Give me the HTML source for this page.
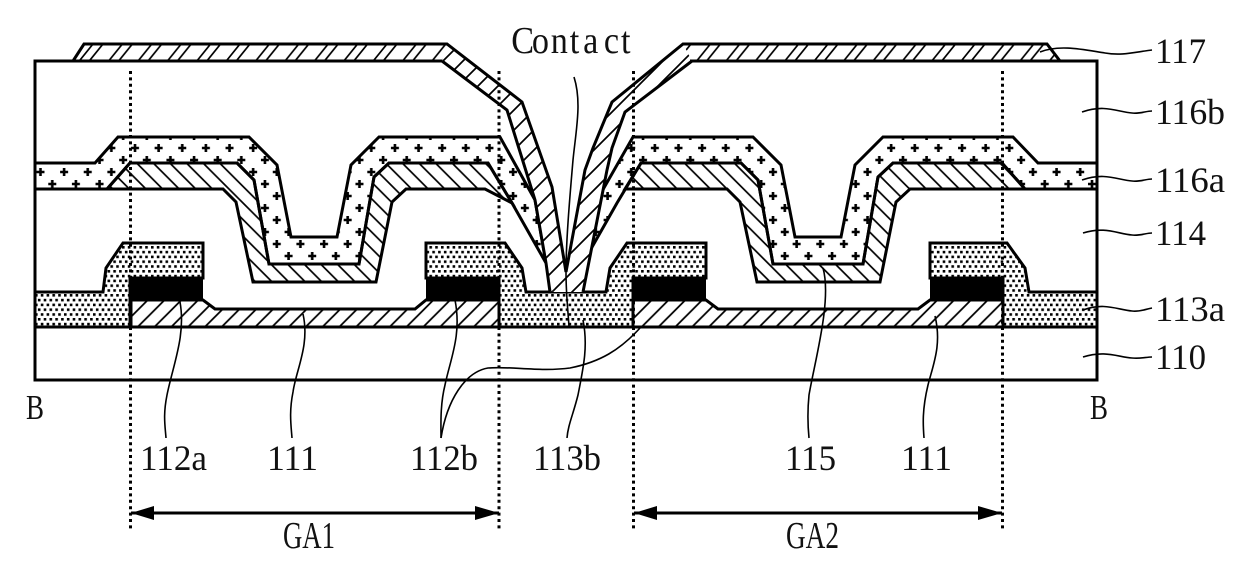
<!DOCTYPE html>
<html>
<head>
<meta charset="utf-8">
<style>
html,body{margin:0;padding:0;background:#fff;width:1240px;height:575px;overflow:hidden}
svg{display:block}
text{font-family:"Liberation Serif",serif;font-size:36px;fill:#111}
</style>
</head>
<body>
<svg width="1240" height="575" viewBox="0 0 1240 575" xmlns="http://www.w3.org/2000/svg">
<defs>
<pattern id="h111" patternUnits="userSpaceOnUse" width="16.8" height="16.8" x="131" y="300">
<path d="M-2 2L2 -2M-2 18.8L18.8 -2M14.8 18.8L18.8 14.8" stroke="#000" stroke-width="1.8" fill="none"/>
</pattern>
<pattern id="h115" patternUnits="userSpaceOnUse" width="16.6" height="16.6" x="120" y="163">
<path d="M-2 14.6L2 18.6M-2 -2L18.6 18.6M14.6 -2L18.6 2" stroke="#000" stroke-width="1.7" fill="none"/>
</pattern>
<pattern id="h117" patternUnits="userSpaceOnUse" width="29.4" height="17" x="80" y="44">
<path d="M-4 21L13 0M-4 4L0 0M6 21L23 0M25.4 21L42.4 0M35.4 21L52.4 0" stroke="#000" stroke-width="1.7" fill="none"/>
</pattern>
<pattern id="h117b" patternUnits="userSpaceOnUse" width="20" height="20" x="440" y="44">
<path d="M-2 2L2 -2M-2 22L22 -2M18 22L22 18" stroke="#000" stroke-width="1.7" fill="none"/>
</pattern>
<pattern id="dots" patternUnits="userSpaceOnUse" width="5.8" height="9.6" x="35" y="246">
<rect x="0" y="0" width="2.6" height="2.6" fill="#000"/>
<rect x="2.9" y="4.8" width="2.6" height="2.6" fill="#000"/>
</pattern>
<pattern id="plus" patternUnits="userSpaceOnUse" width="23.63" height="24" x="129" y="142">
<path d="M6 2V10M2 6H10M17.8 14V22M13.8 18H21.8" stroke="#000" stroke-width="2.6" fill="none"/>
</pattern>
</defs>

<rect width="1240" height="575" fill="#fff"/>

<!-- 111 active layers -->
<g stroke="#000" stroke-width="3" stroke-linejoin="miter" fill="url(#h111)">
<polygon points="131,300 203,300 215,309 415,309 426,300 499,300 499,327 131,327"/>
<polygon points="633,300 706,300 718,309 918,309 930,300 1003,300 1003,327 633,327"/>
</g>

<!-- 113a gate insulator -->
<g stroke="#000" stroke-width="3" fill="url(#dots)">
<polygon points="35,292 103,292 106,268 123,243 203,243 203,278 130,278 130,327 35,327"/>
<polygon points="426,243 505,243 522,268 526,292 606,292 610,268 627,243 706,243 706,278 633,278 633,327 499,327 499,278 426,278"/>
<polygon points="930,243 1007,243 1025,268 1029,292 1097,292 1097,327 1003,327 1003,278 930,278"/>
</g>

<!-- 112 black gates -->
<g fill="#000">
<rect x="130" y="278" width="73" height="23"/>
<rect x="426" y="278" width="73" height="23"/>
<rect x="633" y="278" width="73" height="23"/>
<rect x="930" y="278" width="73" height="23"/>
</g>

<!-- 115 -->
<g stroke="#000" stroke-width="3" fill="url(#h115)" stroke-linejoin="miter">
<polygon points="107,189 130,163 237,163 254,180 269,264 359,264 374,177 389,163 488,163 512,203 485,189 406,189 392,202 376,282 253,282 236,202 223,189"/>
<polygon points="625,189 641,163 741,163 758,180 773,264 863,264 878,177 893,163 1002,163 1025,189 910,189 896,202 880,282 757,282 740,202 727,189"/>
</g>

<!-- 116a -->
<g stroke="#000" stroke-width="3" fill="url(#plus)" stroke-linejoin="miter">
<polygon points="35,163 95,163 118,137 249,137 277,165 291,237 337,237 351,165 379,137 500,137 535,200 546,263 512,203 488,163 389,163 374,177 359,264 269,264 254,180 237,163 130,163 107,189 35,189"/>
<polygon points="1097,163 1038,163 1013,137 883,137 855,165 841,237 795,237 781,165 753,137 633,137 597,200 583,263 617,203 641,163 741,163 758,180 773,264 863,264 878,177 893,163 1002,163 1025,189 1097,189"/>
</g>

<!-- 117 hatch fills -->
<polygon points="73,61 84,44 447,44 469,61" fill="url(#h117)"/>
<polygon points="442,61 447,44 522,102 552,187 566,272 582,292 550,292 546,263 535,200 507,110" fill="#fff"/>
<polygon points="442,61 447,44 522,102 552,187 566,272 582,292 550,292 546,263 535,200 507,110" fill="url(#h117b)"/>
<polygon points="692,61 683,44 1047,44 1060,61" fill="url(#h117)"/>
<polygon points="566,272 585,170 593,148 612,102 683,44 692,61 625,112 612,148 607,170 583,292 552,292" fill="#fff"/>
<polygon points="566,272 585,170 593,148 612,102 683,44 692,61 625,112 612,148 607,170 583,292 552,292" fill="url(#h117b)"/>

<!-- 117 outlines -->
<g fill="none" stroke="#000" stroke-width="3" stroke-linejoin="miter">
<path d="M73 61L84 44H447L522 102L552 187L566 272"/>
<path d="M442 61L507 110L535 200L546 263L550 292"/>
<path d="M1060 61L1047 44H683L612 102L593 148L585 170L566 272"/>
<path d="M692 61L625 112L612 148L607 170L583 292"/>
<!-- frame -->
<path d="M442 61H35V380H1097V61H690"/>
<path d="M35 327H1097"/>
</g>

<!-- dotted verticals -->
<g stroke="#000" stroke-width="3" stroke-dasharray="3 3.4" fill="none">
<path d="M130.5 71V530"/>
<path d="M499 71V530"/>
<path d="M633.5 71V530"/>
<path d="M1002.5 71V530"/>
</g>

<!-- dimension arrows -->
<g stroke="#000" stroke-width="3" fill="none">
<path d="M131 513H499"/>
<path d="M634 513H1002"/>
</g>
<g fill="#000">
<polygon points="131,513 154,506 154,520"/>
<polygon points="499,513 475,506 475,520"/>
<polygon points="634,513 657,506 657,520"/>
<polygon points="1002,513 978,506 978,520"/>
</g>

<!-- leaders -->
<g fill="none" stroke="#000" stroke-width="1.6">
<path d="M1040 52C1060 44 1085 50 1105 53C1122 56 1135 52 1152 50"/>
<path d="M1082 112C1105 104 1118 112 1132 113C1140 114 1146 111 1152 111"/>
<path d="M1082 180C1105 172 1118 180 1132 181C1140 182 1146 179 1152 179"/>
<path d="M1083 233C1105 226 1118 234 1132 235C1140 236 1146 233 1152 233"/>
<path d="M1083 310C1105 302 1118 310 1132 311C1140 312 1146 309 1152 308"/>
<path d="M1083 357C1105 350 1118 357 1132 358C1140 359 1146 357 1152 357"/>
<path d="M574 77C582 102 576 130 573 160C570 195 566 240 566 272C566 295 568 310 569 327"/>
<path d="M180 302C186 335 173 365 167 395C163 415 165 425 166 438"/>
<path d="M303 314C310 345 296 370 293 392C289 412 291 425 292 438"/>
<path d="M455 300C462 335 450 360 445 385C440 405 441 425 441 438"/>
<path d="M640 328C620 350 600 362 570 368C540 372 510 366 488 368C465 372 447 400 441 438"/>
<path d="M583 320C588 345 584 365 578 395C573 415 568 425 567 438"/>
<path d="M823 268C832 300 815 360 809 395C807 415 808 428 809 438"/>
<path d="M935 316C942 345 933 365 928 385C922 410 923 425 924 438"/>
</g>

<!-- labels -->
<text transform="translate(0,53) scale(.9,1)" style="font-size:38px"><tspan x="568" style="font-size:38px">C</tspan><tspan x="591">o</tspan><tspan x="612">n</tspan><tspan x="633">t</tspan><tspan x="648">a</tspan><tspan x="671">c</tspan><tspan x="690">t</tspan></text>
<text x="1155" y="63" textLength="51" lengthAdjust="spacingAndGlyphs">117</text>
<text x="1155" y="124" textLength="70" lengthAdjust="spacingAndGlyphs">116b</text>
<text x="1155" y="192" textLength="70" lengthAdjust="spacingAndGlyphs">116a</text>
<text x="1155" y="245" textLength="51" lengthAdjust="spacingAndGlyphs">114</text>
<text x="1155" y="321" textLength="70" lengthAdjust="spacingAndGlyphs">113a</text>
<text x="1155" y="369" textLength="51" lengthAdjust="spacingAndGlyphs">110</text>
<text x="26" y="419" textLength="18" lengthAdjust="spacingAndGlyphs" style="font-size:35px">B</text>
<text x="1090" y="419" textLength="18" lengthAdjust="spacingAndGlyphs" style="font-size:35px">B</text>
<text x="140" y="470" textLength="67" lengthAdjust="spacingAndGlyphs">112a</text>
<text x="267" y="470" textLength="51" lengthAdjust="spacingAndGlyphs">111</text>
<text x="410" y="470" textLength="68" lengthAdjust="spacingAndGlyphs">112b</text>
<text x="533" y="470" textLength="68" lengthAdjust="spacingAndGlyphs">113b</text>
<text x="785" y="470" textLength="51" lengthAdjust="spacingAndGlyphs">115</text>
<text x="901" y="470" textLength="51" lengthAdjust="spacingAndGlyphs">111</text>
<text x="283" y="548" textLength="52" lengthAdjust="spacingAndGlyphs" style="font-size:38px">GA1</text>
<text x="786" y="548" textLength="53" lengthAdjust="spacingAndGlyphs" style="font-size:38px">GA2</text>
</svg>
</body>
</html>
